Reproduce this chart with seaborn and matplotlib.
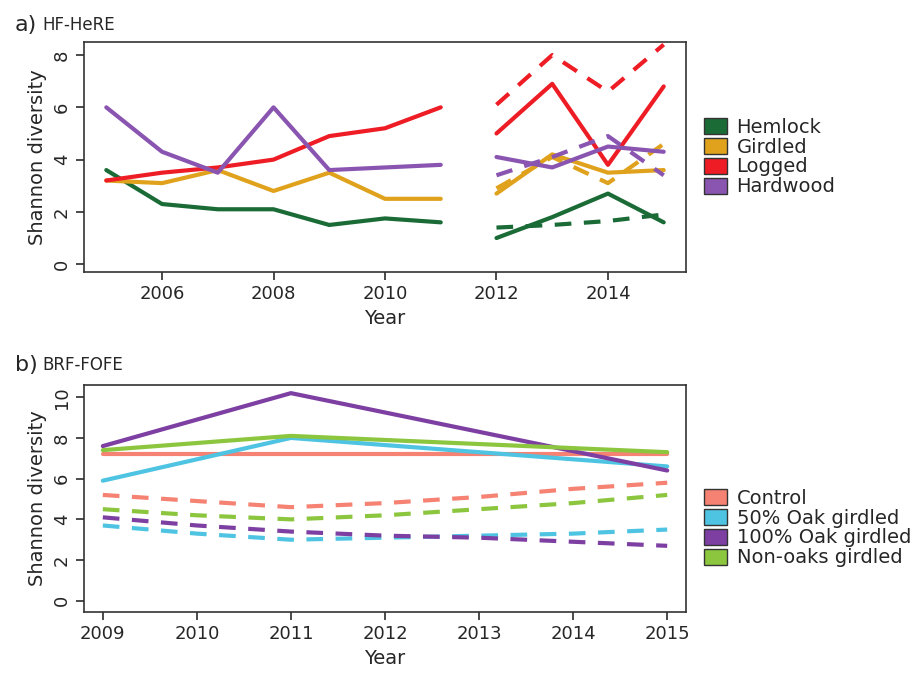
import matplotlib.patches as mpatches
import matplotlib.pyplot as plt
import seaborn as sns

# panel a: HF-HeRE
years_a1 = list(range(2005, 2012))
years_a2 = list(range(2012, 2016))
hemlock_1 = [3.6, 2.3, 2.1, 2.1, 1.5, 1.75, 1.6]
girdled_1 = [3.2, 3.1, 3.6, 2.8, 3.5, 2.5, 2.5]
logged_1 = [3.2, 3.5, 3.7, 4.0, 4.9, 5.2, 6.0]
hardwood_1 = [6.0, 4.3, 3.5, 6.0, 3.6, 3.7, 3.8]
hemlock_2 = [1.0, 1.8, 2.7, 1.6]
girdled_2 = [2.7, 4.2, 3.5, 3.6]
logged_2 = [5.0, 6.9, 3.8, 6.8]
hardwood_2 = [4.1, 3.7, 4.5, 4.3]
hemlock_fit = [1.4, 1.5, 1.65, 1.9]
girdled_fit = [2.9, 4.1, 3.1, 4.6]
logged_fit = [6.1, 8.0, 6.6, 8.4]
hardwood_fit = [3.4, 4.1, 4.9, 3.4]

# panel b: BRF-FOFE
years_b = [2009, 2011, 2015]
control = [7.2, 7.2, 7.2]
oak50 = [5.9, 8.0, 6.6]
oak100 = [7.6, 10.2, 6.4]
nonoak = [7.4, 8.1, 7.3]
years_bfit = list(range(2009, 2016))
control_fit = [5.2, 4.9, 4.6, 4.8, 5.1, 5.5, 5.8]
oak50_fit = [3.7, 3.3, 3.0, 3.1, 3.2, 3.3, 3.5]
oak100_fit = [4.1, 3.7, 3.4, 3.2, 3.1, 2.9, 2.7]
nonoak_fit = [4.5, 4.2, 4.0, 4.2, 4.5, 4.8, 5.2]

sns.set_theme(style="ticks")
plt.rcParams["font.family"] = ["DejaVu Sans"]

fig = plt.figure(figsize=(9.14, 6.73), dpi=100)
ax_a = fig.add_axes([84 / 914, 1 - 272 / 673, 602 / 914, 230 / 673])
ax_b = fig.add_axes([84 / 914, 1 - 612 / 673, 602 / 914, 227 / 673])

cols_a = {"Hemlock": "#1b6b37", "Girdled": "#e0a21c", "Logged": "#ee1c24", "Hardwood": "#8a55b0"}
series_a = {
    "Hemlock": (hemlock_1, hemlock_2, hemlock_fit),
    "Girdled": (girdled_1, girdled_2, girdled_fit),
    "Logged": (logged_1, logged_2, logged_fit),
    "Hardwood": (hardwood_1, hardwood_2, hardwood_fit),
}
for name, (v1, v2, vf) in series_a.items():
    c = cols_a[name]
    sns.lineplot(x=years_a1, y=v1, ax=ax_a, color=c, lw=3)
    sns.lineplot(x=years_a2, y=v2, ax=ax_a, color=c, lw=3)
    sns.lineplot(x=years_a2, y=vf, ax=ax_a, color=c, lw=3, linestyle=(0, (4, 3)))

cols_b = {"Control": "#f58272", "50% Oak girdled": "#4ec4e2", "100% Oak girdled": "#7d3fa2", "Non-oaks girdled": "#8cc63f"}
series_b = {
    "Control": (control, control_fit),
    "50% Oak girdled": (oak50, oak50_fit),
    "100% Oak girdled": (oak100, oak100_fit),
    "Non-oaks girdled": (nonoak, nonoak_fit),
}
for name, (v, vf) in series_b.items():
    c = cols_b[name]
    sns.lineplot(x=years_b, y=v, ax=ax_b, color=c, lw=3)
    sns.lineplot(x=years_bfit, y=vf, ax=ax_b, color=c, lw=3, linestyle=(0, (4, 3)))

ax_a.set_xlim(2004.6, 2015.4)
ax_a.set_ylim(-0.3, 8.5)
ax_a.set_xticks([2006, 2008, 2010, 2012, 2014])
ax_a.set_yticks([0, 2, 4, 6, 8])
ax_b.set_xlim(2008.8, 2015.2)
ax_b.set_ylim(-0.55, 10.6)
ax_b.set_xticks(years_bfit)
ax_b.set_yticks([0, 2, 4, 6, 8, 10])

for ax in (ax_a, ax_b):
    for s in ax.spines.values():
        s.set_visible(True)
        s.set_color("#333333")
        s.set_linewidth(1.2)
    ax.tick_params(labelsize=13, length=6, color="#333333")
    ax.set_xlabel("Year", fontsize=14)
    ax.set_ylabel("Shannon diversity", fontsize=14)
    for lab in ax.get_yticklabels():
        lab.set_rotation(90)
        lab.set_va("center")

# legends as colour boxes like the reference
ax_a.legend(handles=[mpatches.Patch(facecolor=c, edgecolor="#333333", label=n) for n, c in cols_a.items()],
            loc="center left", bbox_to_anchor=(1.0, 0.5), frameon=False, fontsize=14,
            handlelength=1.2, handleheight=0.9, labelspacing=0.05, handletextpad=0.5)
ax_b.legend(handles=[mpatches.Patch(facecolor=c, edgecolor="#333333", label=n) for n, c in cols_b.items()],
            loc="center left", bbox_to_anchor=(1.0, 0.37), frameon=False, fontsize=14,
            handlelength=1.2, handleheight=0.9, labelspacing=0.05, handletextpad=0.5)

fig.text(15 / 914, 1 - 25 / 673, "a)", fontsize=16, va="center")
fig.text(42 / 914, 1 - 25 / 673, "HF-HeRE", fontsize=12, va="center")
fig.text(15 / 914, 1 - 365 / 673, "b)", fontsize=16, va="center")
fig.text(42 / 914, 1 - 365 / 673, "BRF-FOFE", fontsize=12, va="center")

fig.savefig("out.png", dpi=100)
